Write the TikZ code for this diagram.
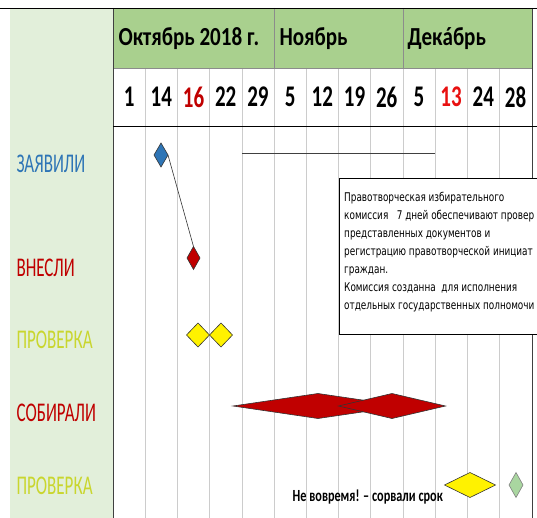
\documentclass[tikz,border=0pt]{standalone}
\usepackage{fontspec}
\setmainfont{Carlito}
\newfontfamily\headfont{Carlito}[FakeStretch=0.81]
\newfontfamily\dayfont{Carlito}[FakeStretch=0.7]
\newfontfamily\labelfont{Carlito}[FakeStretch=0.63]
\newfontfamily\narrowfont{Carlito}[FakeStretch=0.72]
\newfontfamily\notefont{DejaVu Sans}[FakeStretch=0.74]
\usetikzlibrary{shapes.geometric}

\definecolor{headgreen}{HTML}{A9D08E}
\definecolor{panelgreen}{HTML}{E2EFDA}
\definecolor{darkred}{HTML}{C00000}
\definecolor{brightred}{HTML}{E81010}
\definecolor{labelblue}{HTML}{2E75B6}
\definecolor{checkyellow}{HTML}{C9D62E}
\definecolor{softgreen}{HTML}{A9D6A0}

\begin{document}
\begin{tikzpicture}[x=1pt,y=-1pt,
    gantdia/.style={diamond, draw=black!80, line width=0.6pt, inner sep=0pt, outer sep=0pt},
    month/.style={anchor=west, font=\headfont\bfseries\fontsize{26}{30}\selectfont},
    day/.style={font=\dayfont\bfseries\fontsize{30}{34}\selectfont},
    rowlabel/.style={anchor=west, font=\labelfont\fontsize{27}{30}\selectfont}]
    \useasboundingbox (0,0) rectangle (537,518);
    \clip (0,0) rectangle (537,518);

    % panels
    \fill[panelgreen] (10,8) rectangle (113,518);
    \fill[headgreen] (113,8) rectangle (532,68);
    \foreach \i in {1,...,12}
        \draw[black!20] ({113+32.2*\i},68) -- ({113+32.2*\i},518);
    \foreach \i in {5,9}
        \draw[black!45] ({113+32.2*\i},8) -- ({113+32.2*\i},68);
    \draw[black!45] (113,68) -- (532,68);
    \draw[black!75] (113,8) -- (113,518);
    \draw[black!75] (532,8) -- (532,518);
    \draw (0,8) -- (537,8);
    \draw[line width=1.5pt] (113,126.5) -- (537,126.5);

    % months and days
    \node[month] (oct) at (115,38.5) {Октябрь 2018 г.};
    \node[month] (nov) at (276,38.5) {Ноябрь};
    \node[month] (dec) at (404,38.5) {Декáбрь};
    \foreach \d/\c [count=\i from 0] in {1/black,14/black,16/darkred,22/black,29/black,5/black,12/black,19/black,26/black,5/black,13/brightred,24/black,28/black}
        \node[day, text=\c] (day\i) at ({113+32.2*(\i+0.5)},97) {\d};

    % rows
    \node[rowlabel, text=labelblue] (zayavili) at (13,164) {ЗАЯВИЛИ};
    \node[rowlabel, text=darkred] (vnesli) at (13,268) {ВНЕСЛИ};
    \node[rowlabel, text=checkyellow] (proverka) at (13,340) {ПРОВЕРКА};
    \node[rowlabel, text=darkred] (sobirali) at (13,413) {СОБИРАЛИ};
    \node[rowlabel, text=checkyellow] (proverkab) at (13,486) {ПРОВЕРКА};

    \draw[black!75] (241.8,153) -- (435,153);

    \node[gantdia, fill=labelblue, minimum width=14, minimum height=24] (zayav) at (161,155) {};
    \node[gantdia, fill=darkred, minimum width=13, minimum height=23] (vnes) at (193.5,258) {};
    \draw[black!80, line width=0.6pt] (zayav.east) -- (vnes.north);

    \node[gantdia, fill=yellow, minimum width=23, minimum height=24] (prova) at (198,335) {};
    \node[gantdia, fill=yellow, minimum width=23, minimum height=24] (provb) at (221,335) {};

    \node[gantdia, fill=darkred, minimum width=170, minimum height=25] (sbora) at (318,406) {};
    \node[gantdia, fill=darkred, minimum width=107, minimum height=25] (sborb) at (392,406) {};

    \node[anchor=east, inner sep=0pt, font=\narrowfont\bfseries\fontsize{17}{20}\selectfont] (late) at (443,497) {Не вовремя! – сорвали срок};
    \node[gantdia, fill=yellow, minimum width=51, minimum height=25] (provc) at (470,485) {};
    \node[gantdia, fill=softgreen, draw=black!50, minimum width=14, minimum height=25] (done) at (516,485) {};

    % note
    \node[draw, fill=white, anchor=north west, inner sep=0pt, minimum width=230, minimum height=156] (note) at (339,178) {};
    \node[anchor=north west, inner sep=0pt, align=left, font=\notefont\fontsize{12}{18}\selectfont] (notetext) at (344,192) {Правотворческая избирательного\\
        комиссия\ \ \ 7 дней обеспечивают провер\\
        представленных документов и\\
        регистрацию правотворческой инициат\\
        граждан.\\
        Комиссия созданна\ \ для исполнения\\
        отдельных государственных полномочи};
\end{tikzpicture}
\end{document}
